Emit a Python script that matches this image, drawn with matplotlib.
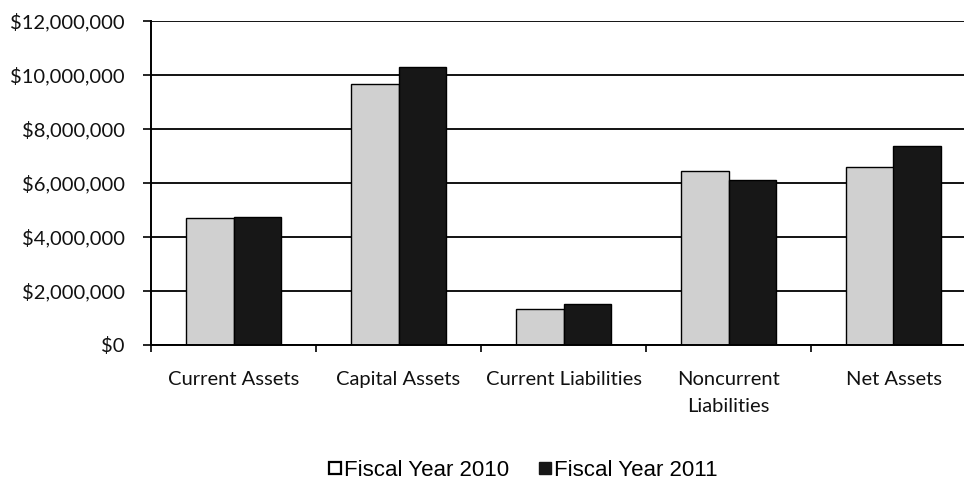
import matplotlib
matplotlib.use("Agg")
import matplotlib.pyplot as plt
from matplotlib.lines import Line2D
from matplotlib.ticker import FuncFormatter, FixedLocator
import numpy as np

categories = ["Current Assets", "Capital Assets", "Current Liabilities",
              "Noncurrent\nLiabilities", "Net Assets"]
fy2010 = [4700000, 9660000, 1340000, 6430000, 6580000]
fy2011 = [4730000, 10270000, 1500000, 6110000, 7380000]
series_names = ["Fiscal Year 2010", "Fiscal Year 2011"]
yticks = [0, 2000000, 4000000, 6000000, 8000000, 10000000, 12000000]

light = "#d0d0d0"
dark = "#171717"

fig = plt.figure(figsize=(9.64, 4.82), dpi=100)
ax = fig.add_axes([151 / 964, 137 / 482, 825 / 964, 324.3 / 482])

x = np.arange(len(categories))
w = 0.29
ax.bar(x - w / 2, fy2010, w, color=light, edgecolor="black", linewidth=1.0, zorder=3)
ax.bar(x + w / 2, fy2011, w, color=dark, edgecolor="black", linewidth=1.0, zorder=3)

ax.set_xlim(-0.5, len(categories) - 0.5)
ax.set_ylim(0, 12000000)

ax.set_yticks(yticks)
ax.yaxis.set_major_formatter(FuncFormatter(lambda v, p: "${:,.0f}".format(v)))
ax.yaxis.grid(True, color="black", linewidth=1.3, zorder=1)

ax.set_xticks(x)
ax.set_xticklabels(categories, linespacing=1.72)
ax.xaxis.set_minor_locator(FixedLocator(np.arange(-0.5, len(categories), 1.0)))
ax.tick_params(axis="x", which="major", length=0, pad=18.5)
ax.tick_params(axis="x", which="minor", length=5, width=1.2, direction="out", color="black")
ax.tick_params(axis="y", length=6, width=1.2, direction="out", color="black", pad=13)

for lab in ax.get_xticklabels() + ax.get_yticklabels():
    lab.set_family(["Lato", "DejaVu Sans"])
    lab.set_fontsize(14.5)
    lab.set_color("#111111")

for s in ["top", "right"]:
    ax.spines[s].set_visible(False)
for s in ["left", "bottom"]:
    ax.spines[s].set_color("black")
    ax.spines[s].set_linewidth(1.4)
    ax.spines[s].set_zorder(4)

handles = [
    Line2D([], [], linestyle="none", marker="s", markersize=8.5,
           markerfacecolor="white", markeredgecolor="black", markeredgewidth=1.6),
    Line2D([], [], linestyle="none", marker="s", markersize=8.5,
           markerfacecolor=dark, markeredgecolor=dark),
]
fig.legend(handles, series_names, loc="center", bbox_to_anchor=(523 / 964, 12 / 482),
           ncol=2, frameon=False, handlelength=0.6, handletextpad=0.1,
           columnspacing=1.35, borderpad=0.1,
           prop={"family": ["Liberation Sans", "DejaVu Sans"], "size": 16})

fig.savefig("out.png", dpi=100)
